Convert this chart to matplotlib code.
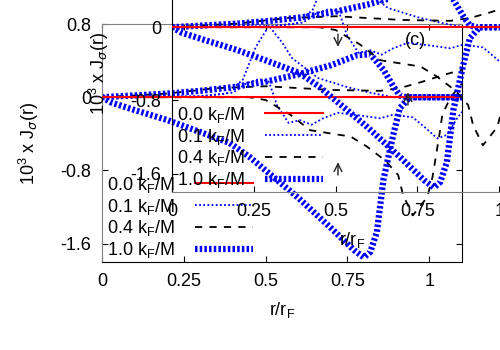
import matplotlib.pyplot as plt

# r/r_F grids and currents (10^3 x J)
r_zero = [0.0, 1.1]
j_00 = [0.0, 0.0]

r_01_up = [0, 0.3, 0.4, 0.44, 0.48, 0.51, 0.535, 0.57, 0.605, 0.64, 0.676, 0.72,
           0.79, 0.85, 0.89, 0.95, 0.99, 1.025, 1.055, 1.085, 1.1]
j_01_up = [0, 0.01, 0.05, 0.15, 0.2, 0.17, -0.09, -0.28, -0.25, -0.30, -0.23, -0.17,
           -0.20, -0.23, -0.19, -0.22, -0.34, -0.45, -0.41, -0.23, -0.16]
r_01_dn = [0, 0.3, 0.38, 0.43, 0.47, 0.51, 0.55, 0.58, 0.66, 0.75, 0.82, 0.89, 1.1]
j_01_dn = [0, 0.01, 0.04, 0.19, 0.55, 0.78, 0.6, 0.43, 0.21, 0.11, 0.05, 0.0, 0.0]

r_04_up = [0, 0.45, 0.5, 0.575, 0.636, 0.76, 0.81, 0.865, 0.905, 0.92, 0.95,
           0.994, 1.01, 1.02, 1.03, 1.04, 1.065, 1.1]
j_04_up = [0, 0, -0.03, -0.19, -0.36, -0.43, -0.54, -0.69, -0.85, -1.07, -1.29,
           -1.09, -0.87, -0.65, -0.43, -0.19, 0.0, 0.15]
r_04_dn = [0, 0.2, 0.35, 0.5, 0.7, 0.85, 0.91, 0.97, 1.05, 1.1]
j_04_dn = [0, 0.04, 0.1, 0.12, 0.08, 0.07, 0.1, 0.16, 0.25, 0.3]

r_10_up = [0, 0.03, 0.1, 0.2, 0.3, 0.39, 0.45, 0.5, 0.6, 0.7, 0.77, 0.8, 0.82,
           0.84, 0.86, 0.89, 0.91, 0.94, 1.1]
j_10_up = [0, -0.06, -0.14, -0.25, -0.38, -0.50, -0.65, -0.80, -1.10, -1.43, -1.67,
           -1.75, -1.69, -1.47, -0.9, -0.41, -0.12, 0, 0]
r_10_dn = [0, 0.1, 0.2, 0.3, 0.4, 0.5, 0.6, 0.7, 0.78, 0.82, 0.86, 0.89, 0.91, 0.93, 1.1]
j_10_dn = [0, 0.02, 0.04, 0.07, 0.11, 0.17, 0.25, 0.35, 0.46, 0.47, 0.30, 0.12, 0.02, 0, 0]

x_ticks = [0, 0.25, 0.5, 0.75, 1]
x_labels = ["0", "0.25", "0.5", "0.75", "1"]
y_ticks = [0.8, 0, -0.8, -1.6]
y_labels = ["0.8", "0", "-0.8", "-1.6"]
labels = [r"0.0 k$_\mathregular{F}$/M", r"0.1 k$_\mathregular{F}$/M",
          r"0.4 k$_\mathregular{F}$/M", r"1.0 k$_\mathregular{F}$/M"]

plt.rcParams['font.family'] = ['Liberation Sans', 'DejaVu Sans']
plt.rcParams['font.size'] = 13

thin = (0, (1, 1.3))
thick = (0, (0.4, 0.35))
dash = (0, (4, 4))


def draw(ax, left_col, bottom_col):
    ax.plot(r_zero, j_00, color="red", lw=1.5, label=labels[0], zorder=6)
    ax.plot(r_01_up, j_01_up, color="blue", lw=1.3, ls=thin, label=labels[1])
    ax.plot(r_01_dn, j_01_dn, color="blue", lw=1.3, ls=thin)
    ax.plot(r_04_up, j_04_up, color="black", lw=1.3, ls=dash, label=labels[2])
    ax.plot(r_04_dn, j_04_dn, color="black", lw=1.3, ls=dash)
    ax.plot(r_10_up, j_10_up, color="blue", lw=4.5, ls=thick, label=labels[3])
    ax.plot(r_10_dn, j_10_dn, color="blue", lw=4.5, ls=thick)

    ax.set_xlim(0, 1.1)
    ax.set_ylim(-1.8, 0.8)
    ax.set_xticks(x_ticks, x_labels)
    ax.set_yticks(y_ticks, y_labels)
    ax.tick_params(direction="in", top=True, right=True, length=4, pad=8)
    ax.spines["left"].set_color(left_col)
    ax.spines["top"].set_color(left_col)
    ax.spines["bottom"].set_color(bottom_col)
    ax.spines["right"].set_color(bottom_col)

    ax.set_xlabel(r"r/r$_\mathregular{F}$", labelpad=7)
    ax.set_ylabel(r"10$^\mathregular{3}$ x J$_\sigma$(r)", labelpad=14)

    ax.text(0.957, 0.625, "(c)", ha="center", va="center")
    ax.annotate("", xy=(0.721, 0.52), xytext=(0.721, 0.72),
                arrowprops=dict(arrowstyle="->", color="#222222", lw=1,
                                mutation_scale=14))
    ax.annotate("", xy=(0.721, -0.68), xytext=(0.721, -0.88),
                arrowprops=dict(arrowstyle="->", color="#222222", lw=1,
                                mutation_scale=14))

    ax.legend(loc="lower left", bbox_to_anchor=(0.0, -0.015), frameon=False,
              markerfirst=False, handlelength=3.2, handletextpad=1.1,
              labelspacing=0.1, borderaxespad=0.2, borderpad=0.1)


fig = plt.figure(figsize=(5, 3.5), dpi=100)
ax1 = fig.add_axes([0.204, 0.2514, 0.72, 0.68])
ax2 = fig.add_axes([0.344, 0.4514, 0.72, 0.68])
ax2.patch.set_alpha(0)

draw(ax1, "gray", "black")
draw(ax2, "black", "gray")

fig.savefig("out.png", dpi=100)
